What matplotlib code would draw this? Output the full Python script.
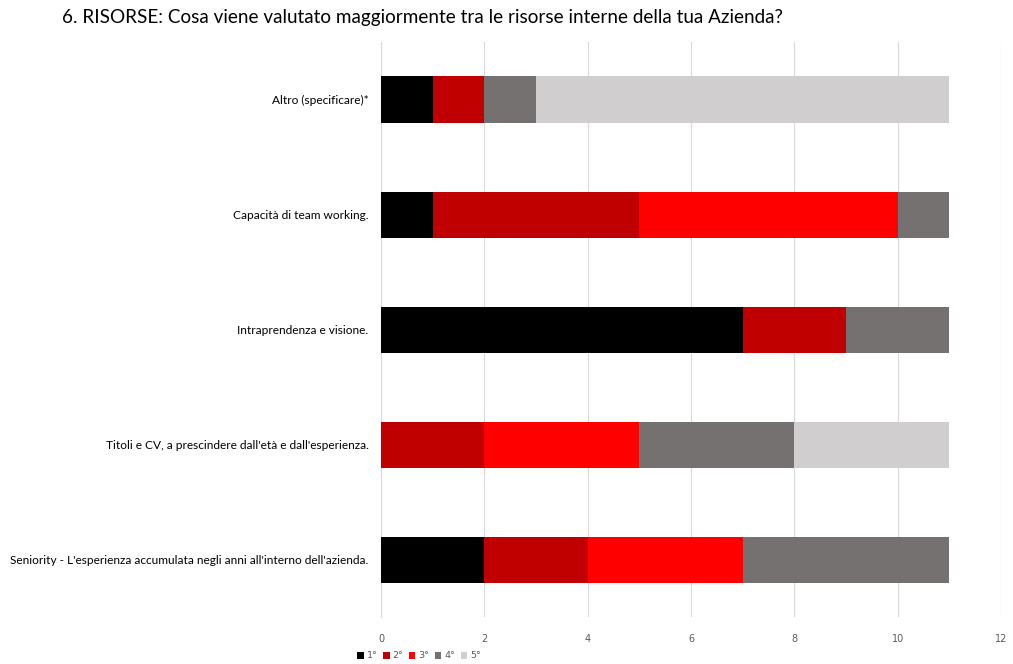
import matplotlib
matplotlib.use("Agg")
import matplotlib.pyplot as plt
import numpy as np

categories = [
    "Seniority - L'esperienza accumulata negli anni all'interno dell'azienda.",
    "Titoli e CV, a prescindere dall'età e dall'esperienza.",
    "Intraprendenza e visione.",
    "Capacità di team working.",
    "Altro (specificare)*",
]
series_names = ["1°", "2°", "3°", "4°", "5°"]
first = [2, 0, 7, 1, 1]
second = [2, 2, 2, 4, 1]
third = [3, 3, 0, 5, 0]
fourth = [4, 3, 2, 1, 1]
fifth = [0, 3, 0, 0, 8]
colors = ["#000000", "#C00000", "#FF0000", "#767171", "#D0CECE"]

fig = plt.figure(figsize=(10.13, 6.64), dpi=100)
ax = fig.add_axes([381 / 1013, 1 - 617 / 664, 620 / 1013, 575 / 664])

y = np.arange(len(categories))
left = np.zeros(len(categories))
for name, vals, col in zip(series_names, [first, second, third, fourth, fifth], colors):
    ax.barh(y, vals, left=left, height=0.4, color=col, label=name, zorder=3)
    left += np.array(vals)

ax.set_xlim(0, 12)
ax.set_ylim(-0.5, len(categories) - 0.5)
ax.set_xticks(range(0, 13, 2))
ax.set_yticks(y)
ax.set_yticklabels(categories, fontsize=8.6, family="Lato")
ax.tick_params(axis="y", length=0, pad=9)
ax.tick_params(axis="x", length=0, pad=12, labelsize=7, labelcolor="#595959")
ax.grid(axis="x", color="#D9D9D9", linewidth=0.8, zorder=0)
for s in ["top", "right", "bottom"]:
    ax.spines[s].set_visible(False)
ax.spines["left"].set_color("#D9D9D9")
ax.spines["left"].set_linewidth(0.8)

fig.text(62 / 1013, 1 - 18 / 664, "6. RISORSE: Cosa viene valutato maggiormente tra le risorse interne della tua Azienda?",
         fontsize=13.6, family="Lato", va="center", ha="left")

leg = fig.legend(loc="center", bbox_to_anchor=(419 / 1013, 1 - 656 / 664), ncol=5, frameon=False,
                 fontsize=6.8, handlelength=0.7, handleheight=0.7, handletextpad=0.3, columnspacing=0.6)
for t in leg.get_texts():
    t.set_color("#595959")

fig.savefig("out.png", dpi=100)
